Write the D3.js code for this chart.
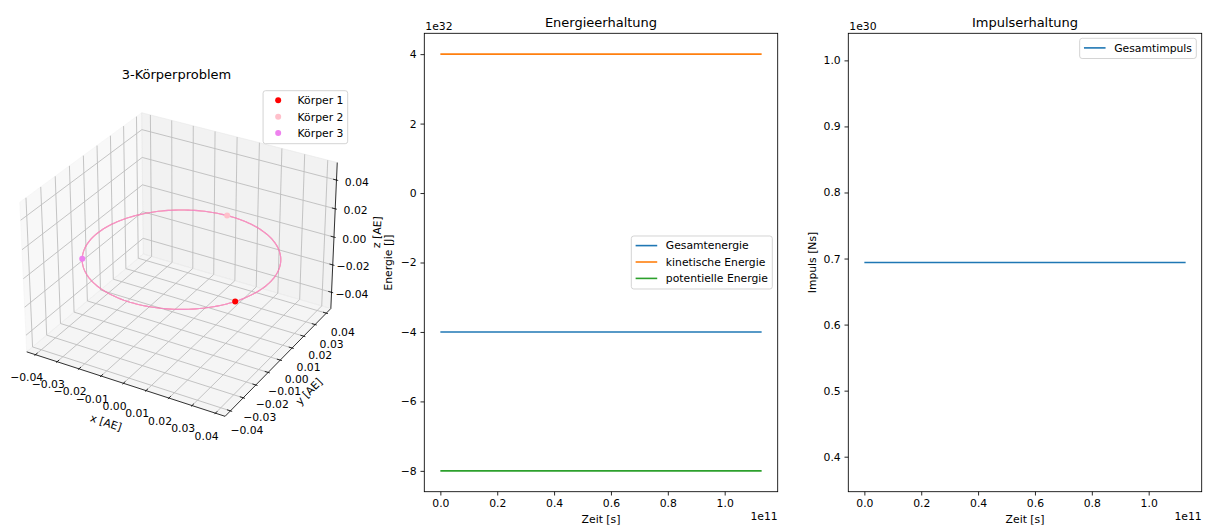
<!DOCTYPE html>
<html>
<head>
<meta charset="utf-8">
<script src="https://cdn.jsdelivr.net/npm/d3@7"></script>
<style>
  body { margin: 0; background: #fff; }
  svg { display: block; font-family: "DejaVu Sans", sans-serif; }
</style>
</head>
<body>
<svg id="fig" width="1207" height="528"></svg>
<script>
// ---------- data ----------
var bodies = ["Körper 1", "Körper 2", "Körper 3"];
var bodyColors = ["#ff0000", "#ffc0cb", "#ee82ee"];
var bodyX = [0.0338, -0.0010, -0.0328];   // AE, end positions
var bodyY = [-0.0184, 0.0385, -0.0201];
var bodyZ = [0, 0, 0];
var orbitRadius = 0.0385;                 // AE, all three share the circle
var xyTicks3d = [-0.04, -0.03, -0.02, -0.01, 0, 0.01, 0.02, 0.03, 0.04];
var zTicks3d = [-0.04, -0.02, 0, 0.02, 0.04];

var zeit = [0, 1.13];                     // x 1e11 s
var energieNames = ["Gesamtenergie", "kinetische Energie", "potentielle Energie"];
var energieColors = ["#1f77b4", "#ff7f0e", "#2ca02c"];
var gesamtEnergie = [-4.0, -4.0];         // x 1e32 J
var kinEnergie = [4.0, 4.0];
var potEnergie = [-8.0, -8.0];
var energieTicks = [-8, -6, -4, -2, 0, 2, 4];

var impulsNames = ["Gesamtimpuls"];
var gesamtImpuls = [0.694, 0.694];        // x 1e30 Ns
var impulsTicks = [0.4, 0.5, 0.6, 0.7, 0.8, 0.9, 1.0];
var zeitTicks = [0, 0.2, 0.4, 0.6, 0.8, 1.0];

// ---------- setup ----------
var svg = d3.select("#fig");
var fs = 10.8, fsTitle = 13;
var black = "#000";

function drawLegend(g, names, colors, kind, anchor) {
  var lg = g.append("g").attr("font-size", fs);
  var box = lg.append("rect").attr("fill", "#fff").attr("fill-opacity", 0.8)
    .attr("stroke", "#cccccc").attr("stroke-width", 0.85).attr("rx", 2.5);
  var rowH = 16.4, h = 20.2 + rowH * (names.length - 1);
  var maxW = 0;
  names.forEach(function(n, i) {
    var cy = 9.6 + i * rowH;
    if (kind == "line") {
      lg.append("line").attr("x1", 4.3).attr("x2", 25.9).attr("y1", cy).attr("y2", cy)
        .attr("stroke", colors[i]).attr("stroke-width", 1.6);
    } else {
      lg.append("circle").attr("cx", 15.1).attr("cy", cy).attr("r", 3).attr("fill", colors[i]);
    }
    var t = lg.append("text").attr("x", 34.5).attr("y", cy).attr("dy", "0.36em").text(n);
    maxW = Math.max(maxW, t.node().getComputedTextLength());
  });
  var w = 34.5 + maxW + 4.3;
  box.attr("width", w).attr("height", h);
  var top = anchor.top != null ? anchor.top : anchor.cy - h / 2;
  lg.attr("transform", "translate(" + (anchor.right - w) + "," + top + ")");
}

// ---------- 3D panel (matplotlib style projection, elev 30 azim -60) ----------
var deg = Math.PI / 180;
var elev = 30 * deg, azim = -60 * deg, camDist = 10;
var boxHalf = [0.5714, 0.5714, 0.4286];
var lim3d = [[-0.0441, 0.0441], [-0.0441, 0.0441], [-0.052, 0.052]];
var toBox = lim3d.map(function(l, i) {
  return d3.scaleLinear().domain(l).range([-boxHalf[i], boxHalf[i]]);
});
function cross(a, b) { return [a[1]*b[2] - a[2]*b[1], a[2]*b[0] - a[0]*b[2], a[0]*b[1] - a[1]*b[0]]; }
function dot(a, b) { return a[0]*b[0] + a[1]*b[1] + a[2]*b[2]; }
var wv = [Math.cos(elev) * Math.cos(azim), Math.cos(elev) * Math.sin(azim), Math.sin(elev)];
var uv = cross([0, 0, 1], wv);
var nu = Math.sqrt(dot(uv, uv));
uv = uv.map(function(c) { return c / nu; });
var vv = cross(wv, uv);
var screenX = d3.scaleLinear().domain([-0.095, 0.09]).range([-7.5, 360.5]);
var screenY = d3.scaleLinear().domain([-0.095, 0.09]).range([446.5, 78.5]);
function proj(p) {
  var d = [toBox[0](p[0]), toBox[1](p[1]), toBox[2](p[2])];
  var den = camDist - dot(wv, d);
  return [screenX(dot(uv, d) / den), screenY(dot(vv, d) / den)];
}
var line3d = d3.line().x(function(p) { return proj(p)[0]; }).y(function(p) { return proj(p)[1]; });

var X0 = lim3d[0][0], X1 = lim3d[0][1], Y0 = lim3d[1][0], Y1 = lim3d[1][1], Z0 = lim3d[2][0], Z1 = lim3d[2][1];
var g3 = svg.append("g");

var panes = [
  {pts: [[X0, Y0, Z0], [X0, Y1, Z0], [X0, Y1, Z1], [X0, Y0, Z1]], c: "rgba(242,242,242,0.5)"},
  {pts: [[X0, Y1, Z0], [X1, Y1, Z0], [X1, Y1, Z1], [X0, Y1, Z1]], c: "rgba(230,230,230,0.5)"},
  {pts: [[X0, Y0, Z0], [X1, Y0, Z0], [X1, Y1, Z0], [X0, Y1, Z0]], c: "rgba(236,236,236,0.5)"}
];
g3.selectAll("path.pane").data(panes).enter().append("path")
  .attr("class", "pane")
  .attr("d", function(p) { return line3d(p.pts) + "Z"; })
  .attr("fill", function(p) { return p.c; })
  .attr("stroke", function(p) { return p.c; })
  .attr("stroke-width", 1);

// grid lines
var grid = [];
xyTicks3d.forEach(function(t) { grid.push([[t, Y0, Z0], [t, Y1, Z0], [t, Y1, Z1]]); });
xyTicks3d.forEach(function(t) { grid.push([[X0, t, Z1], [X0, t, Z0], [X1, t, Z0]]); });
zTicks3d.forEach(function(t) { grid.push([[X1, Y1, t], [X0, Y1, t], [X0, Y0, t]]); });
g3.selectAll("path.grid").data(grid).enter().append("path")
  .attr("class", "grid").attr("d", line3d)
  .attr("fill", "none").attr("stroke", "#bdbdbd").attr("stroke-width", 0.9);

// axis lines
var axes3 = [
  [[X0, Y0, Z0], [X1, Y0, Z0]],
  [[X1, Y0, Z0], [X1, Y1, Z0]],
  [[X1, Y1, Z0], [X1, Y1, Z1]]
];
g3.selectAll("path.ax").data(axes3).enter().append("path")
  .attr("class", "ax").attr("d", line3d)
  .attr("fill", "none").attr("stroke", black).attr("stroke-width", 0.8);

// ticks and tick labels
var dX = (X1 - X0) / 12, dY = (Y1 - Y0) / 12;
var tickDefs = [];
xyTicks3d.forEach(function(t) {
  tickDefs.push({a: [t, Y0 - 0.1 * dY, Z0], b: [t, Y0 + 0.2 * dY, Z0], base: [t, Y0, Z0], off: [-8.8, 22.8], v: t});
});
xyTicks3d.forEach(function(t) {
  tickDefs.push({a: [X1 + 0.1 * dX, t, Z0], b: [X1 - 0.2 * dX, t, Z0], base: [X1, t, Z0], off: [16.5, 19.2], v: t});
});
zTicks3d.forEach(function(t) {
  tickDefs.push({a: [X1 + 0.1 * dX, Y1, t], b: [X1 - 0.2 * dX, Y1, t], base: [X1, Y1, t], off: [20.4, 1.7], v: t});
});
g3.selectAll("path.tick").data(tickDefs).enter().append("path")
  .attr("class", "tick").attr("d", function(d) { return line3d([d.a, d.b]); })
  .attr("stroke", black).attr("stroke-width", 0.8);
var fmt2 = d3.format(".2f");
g3.selectAll("text.tl").data(tickDefs).enter().append("text")
  .attr("class", "tl")
  .attr("x", function(d) { return proj(d.base)[0] + d.off[0]; })
  .attr("y", function(d) { return proj(d.base)[1] + d.off[1]; })
  .attr("dy", "0.35em").attr("text-anchor", "middle").attr("font-size", fs)
  .text(function(d) { return fmt2(d.v); });

// axis labels
var axLabels = [
  {txt: "x [AE]", ax: axes3[0], off: [-17.4, 39.2]},
  {txt: "y [AE]", ax: axes3[1], off: [28.7, 31.4]},
  {txt: "z [AE]", ax: axes3[2], off: [43, -5]}
];
axLabels.forEach(function(l) {
  var p0 = proj(l.ax[0]), p1 = proj(l.ax[1]);
  var mid = [(l.ax[0][0] + l.ax[1][0]) / 2, (l.ax[0][1] + l.ax[1][1]) / 2, (l.ax[0][2] + l.ax[1][2]) / 2];
  var pm = proj(mid);
  var ang = Math.atan2(p1[1] - p0[1], p1[0] - p0[0]) / deg;
  var cx = pm[0] + l.off[0], cy = pm[1] + l.off[1];
  g3.append("text").attr("x", cx).attr("y", cy).attr("dy", "0.35em")
    .attr("text-anchor", "middle").attr("font-size", fs)
    .attr("transform", "rotate(" + ang + "," + cx + "," + cy + ")")
    .text(l.txt);
});

// orbits (one circle per body, drawn over each other) and bodies
var angles = d3.range(0, 361, 2);
var orbitPts = angles.map(function(a) {
  return [orbitRadius * Math.cos(a * deg), orbitRadius * Math.sin(a * deg), 0];
});
bodies.forEach(function(b, i) {
  g3.append("path").attr("d", line3d(orbitPts)).attr("fill", "none")
    .attr("stroke", bodyColors[i]).attr("stroke-opacity", 0.5).attr("stroke-width", 1.1);
});
g3.selectAll("circle.body").data(bodies).enter().append("circle")
  .attr("class", "body")
  .attr("cx", function(d, i) { return proj([bodyX[i], bodyY[i], bodyZ[i]])[0]; })
  .attr("cy", function(d, i) { return proj([bodyX[i], bodyY[i], bodyZ[i]])[1]; })
  .attr("r", 3).attr("fill", function(d, i) { return bodyColors[i]; });

g3.append("text").attr("x", 176.5).attr("y", 79).attr("text-anchor", "middle")
  .attr("font-size", fsTitle).text("3-Körperproblem");
drawLegend(g3, bodies, bodyColors, "marker", {right: 347.7, top: 90.7});

// ---------- 2D panels ----------
function drawPanel(o) {
  var g = svg.append("g");
  var x = d3.scaleLinear().domain(o.xDomain).range([o.left, o.right]);
  var y = d3.scaleLinear().domain(o.yDomain).range([o.bottom, o.top]);

  var gx = g.append("g").attr("transform", "translate(0," + o.bottom + ")")
    .call(d3.axisBottom(x).tickValues(zeitTicks).tickFormat(d3.format(".1f"))
      .tickSize(3.8).tickPadding(3.8).tickSizeOuter(0));
  var gy = g.append("g").attr("transform", "translate(" + o.left + ",0)")
    .call(d3.axisLeft(y).tickValues(o.yTicks).tickFormat(o.yFormat)
      .tickSize(3.8).tickPadding(3.8).tickSizeOuter(0));
  [gx, gy].forEach(function(a) {
    a.select(".domain").remove();
    a.attr("font-family", null).attr("font-size", fs);
    a.selectAll(".tick line").attr("stroke", black).attr("stroke-width", 0.85);
    a.selectAll(".tick text").attr("fill", black);
  });

  var line = d3.line().x(function(d, i) { return x(zeit[i]); }).y(function(d) { return y(d); });
  o.series.forEach(function(s, i) {
    g.append("path").attr("d", line(s)).attr("fill", "none")
      .attr("stroke", o.colors[i]).attr("stroke-width", 1.6);
  });

  g.append("rect").attr("x", o.left).attr("y", o.top)
    .attr("width", o.right - o.left).attr("height", o.bottom - o.top)
    .attr("fill", "none").attr("stroke", black).attr("stroke-width", 0.85);

  var cx = (o.left + o.right) / 2;
  g.append("text").attr("x", cx).attr("y", o.top - 6.5).attr("text-anchor", "middle")
    .attr("font-size", fsTitle).text(o.title);
  g.append("text").attr("x", cx).attr("y", 522.5).attr("text-anchor", "middle")
    .attr("font-size", fs).text("Zeit [s]");
  g.append("text").attr("x", o.right).attr("y", 519.5).attr("text-anchor", "end")
    .attr("font-size", fs).text("1e11");
  g.append("text").attr("x", o.left + 1).attr("y", 30).attr("font-size", fs).text(o.yOffset);
  var ly = (o.top + o.bottom) / 2, lx = o.left - 32.3;
  g.append("text").attr("x", lx).attr("y", ly).attr("text-anchor", "middle")
    .attr("transform", "rotate(-90," + lx + "," + ly + ")")
    .attr("font-size", fs).text(o.ylabel);

  drawLegend(g, o.names, o.colors, "line", o.legend(o));
}

var tMax = d3.max(zeit);
var xDom = [-0.05 * tMax, 1.05 * tMax];   // matplotlib 5% margins

var eAll = gesamtEnergie.concat(kinEnergie, potEnergie);
var eMin = d3.min(eAll), eMax = d3.max(eAll), eR = eMax - eMin;
drawPanel({
  left: 424.3, right: 777.7, top: 33.3, bottom: 491.7,
  xDomain: xDom, yDomain: [eMin - 0.05 * eR, eMax + 0.05 * eR],
  yTicks: energieTicks, yFormat: d3.format("d"),
  series: [gesamtEnergie, kinEnergie, potEnergie], colors: energieColors, names: energieNames,
  title: "Energieerhaltung", ylabel: "Energie [J]", yOffset: "1e32",
  legend: function(o) { return {right: o.right - 5.4, cy: (o.top + o.bottom) / 2}; }
});

// constant series: matplotlib widens the view to +-50 % of the value
var pV = d3.mean(gesamtImpuls);
drawPanel({
  left: 848.3, right: 1201.7, top: 33.3, bottom: 491.7,
  xDomain: xDom, yDomain: [pV * 0.5, pV * 1.5],
  yTicks: impulsTicks, yFormat: d3.format(".1f"),
  series: [gesamtImpuls], colors: ["#1f77b4"], names: impulsNames,
  title: "Impulserhaltung", ylabel: "Impuls [Ns]", yOffset: "1e30",
  legend: function(o) { return {right: o.right - 5.4, top: o.top + 5}; }
});
</script>
</body>
</html>
